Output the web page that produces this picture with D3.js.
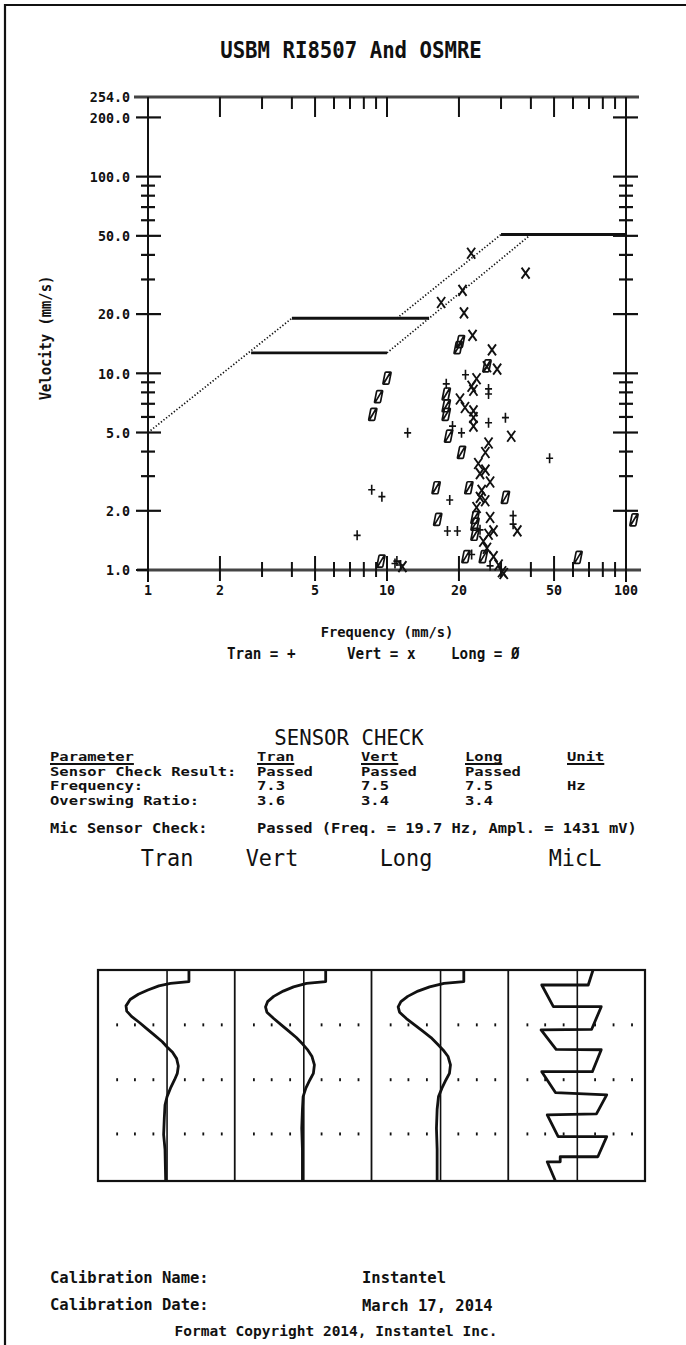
<!DOCTYPE html>
<html><head><meta charset="utf-8">
<script src="https://cdn.jsdelivr.net/npm/d3@7"></script>
<style>
html,body{margin:0;padding:0;background:#fff;}
svg{display:block;}
text{font-family:"DejaVu Sans Mono","Liberation Mono",monospace;fill:#111;}
</style></head><body>
<svg id="c" width="686" height="1345"></svg>
<script>
// ---------------- DATA ----------------
const chartTitle = "USBM RI8507 And OSMRE";
const yTickValues = [254, 200, 100, 50, 20, 10, 5, 2, 1];
const yTickLabels = ["254.0","200.0","100.0","50.0","20.0","10.0","5.0","2.0","1.0"];
const yMinorTicks = [90, 80, 70, 60, 40, 30, 9, 8, 7, 6, 4, 3];
const xMajorTicks = [2, 5, 10, 20, 50];
const xMinorTicks = [3, 4, 6, 7, 8, 9, 30, 40, 60, 70, 80, 90];
const xTickValues = [1, 2, 5, 10, 20, 50, 100];
const xTickLabels = ["1","2","5","10","20","50","100"];
const yAxisTitle = "Velocity (mm/s)";
const xAxisTitle = "Frequency (mm/s)";
const legendItems = ["Tran = +", "Vert = x", "Long = Ø"];

// criteria curves (Hz, mm/s)
const dottedSegments = [
  [[1, 5.0], [4, 19.05]],
  [[10, 12.7], [40, 50.8]],
  [[11, 19.05], [30, 50.8]]
];
const solidSegments = [
  [[2.7, 12.7], [10, 12.7]],
  [[4, 19.05], [15, 19.05]],
  [[30, 50.8], [100, 50.8]]
];

// peak particle velocity points (Hz, mm/s)
const tranPoints = [
  [12.2, 4.98], [8.63, 2.56], [9.52, 2.36], [7.5, 1.5], [17.7, 8.84], [21.3, 9.84],
  [18.8, 5.39], [20.5, 4.98], [26.6, 8.33], [26.6, 7.85], [26.6, 5.61], [31.3, 5.95],
  [18.3, 2.27], [17.9, 1.58], [19.7, 1.58], [33.7, 1.89], [33.7, 1.71], [47.9, 3.7],
  [11.0, 1.11], [11.4, 1.06], [10.8, 1.08], [24.5, 1.6], [22.6, 1.2], [27.0, 1.05]
];
const vertPoints = [
  [22.5, 40.8], [38.0, 32.3], [20.7, 26.4], [16.85, 22.9], [21.0, 20.3], [22.8, 15.6],
  [27.5, 13.15], [26.2, 10.8], [28.9, 10.5], [23.7, 9.39], [22.6, 8.6], [23.0, 8.2],
  [20.2, 7.4], [21.2, 6.7], [23.0, 6.44], [23.0, 5.95], [23.0, 5.39], [33.1, 4.79],
  [26.6, 4.42], [25.8, 3.96], [24.1, 3.48], [25.8, 3.22], [24.5, 3.09], [27.0, 2.8],
  [24.9, 2.54], [24.5, 2.34], [25.75, 2.25], [23.7, 2.08], [27.0, 1.85], [27.9, 1.58],
  [26.6, 1.52], [25.3, 1.4], [26.2, 1.29], [27.9, 1.17], [29.3, 1.06], [30.3, 0.98],
  [30.8, 0.96], [35.1, 1.58], [11.6, 1.04]
];
const longPoints = [
  [10.0, 9.46], [9.22, 7.61], [8.72, 6.19], [19.84, 13.5], [20.3, 14.5], [17.7, 7.85],
  [17.7, 6.84], [17.7, 6.19], [18.1, 4.79], [20.5, 3.96], [16.05, 2.62], [22.0, 2.62],
  [16.3, 1.81], [23.35, 1.71], [23.35, 1.52], [23.35, 1.85], [31.3, 2.34], [21.4, 1.17],
  [25.3, 1.17], [9.43, 1.11], [26.2, 10.9], [63, 1.16], [108, 1.8]
];

// sensor check table
const tableHeaders = ["Parameter", "Tran", "Vert", "Long", "Unit"];
const paramNames = ["Sensor Check Result:", "Frequency:", "Overswing Ratio:"];
const tranValues = ["Passed", "7.3", "3.6"];
const vertValues = ["Passed", "7.5", "3.4"];
const longValues = ["Passed", "7.5", "3.4"];
const unitValues = ["", "Hz", ""];
const micLabel = "Mic Sensor Check:";
const micResult = "Passed (Freq. = 19.7 Hz, Ampl. = 1431 mV)";

// waveforms: [time fraction, normalised amplitude]
const waveNames = ["Tran", "Vert", "Long", "MicL"];
const tranWave = [[0,0.32],[0.055,0.32],[0.063,0.05],[0.075,-0.12],[0.095,-0.28],[0.115,-0.42],[0.14,-0.54],[0.17,-0.6],[0.195,-0.59],[0.22,-0.52],[0.25,-0.4],[0.28,-0.29],[0.31,-0.18],[0.34,-0.07],[0.365,0.0],[0.39,0.08],[0.42,0.14],[0.455,0.165],[0.49,0.15],[0.52,0.11],[0.56,0.05],[0.6,0.0],[0.64,-0.03],[0.7,-0.04],[0.78,-0.05],[0.85,-0.03],[1.0,-0.02]];
const vertWave = [[0,0.32],[0.055,0.32],[0.063,0.04],[0.08,-0.15],[0.1,-0.3],[0.125,-0.44],[0.15,-0.53],[0.175,-0.56],[0.2,-0.54],[0.23,-0.44],[0.26,-0.33],[0.29,-0.22],[0.32,-0.11],[0.35,-0.02],[0.38,0.06],[0.41,0.12],[0.45,0.155],[0.49,0.14],[0.52,0.09],[0.56,0.03],[0.6,-0.01],[0.66,-0.02],[0.75,-0.03],[0.85,-0.02],[1,-0.02]];
const longWave = [[0,0.34],[0.055,0.34],[0.063,0.05],[0.08,-0.16],[0.1,-0.33],[0.125,-0.48],[0.15,-0.58],[0.175,-0.62],[0.2,-0.6],[0.23,-0.5],[0.26,-0.38],[0.29,-0.26],[0.32,-0.14],[0.35,-0.05],[0.38,0.04],[0.41,0.11],[0.45,0.145],[0.49,0.13],[0.52,0.08],[0.56,0.02],[0.6,-0.03],[0.66,-0.05],[0.75,-0.06],[0.85,-0.05],[1,-0.05]];
const micWave = [[0,0.23],[0.071,0.16],[0.071,-0.52],[0.174,-0.35],[0.174,0.35],[0.281,0.21],[0.284,-0.53],[0.376,-0.31],[0.378,0.35],[0.482,0.22],[0.482,-0.52],[0.581,-0.32],[0.592,0.43],[0.682,0.28],[0.687,-0.44],[0.79,-0.28],[0.79,0.43],[0.885,0.3],[0.885,-0.25],[0.909,-0.25],[0.909,-0.44],[1.0,-0.32]];
const waves = [tranWave, vertWave, longWave, micWave];

const calNameLabel = "Calibration Name:";
const calNameValue = "Instantel";
const calDateLabel = "Calibration Date:";
const calDateValue = "March 17, 2014";
const copyrightText = "Format Copyright 2014, Instantel Inc.";

// ---------------- DRAW ----------------
const svg = d3.select("#c");
const ink = "#111";

function txt(parent, x, y, s, o = {}) {
  const g = parent.append("g").attr("transform", `translate(${x},${y}) scale(${o.sx || 1},1)`);
  const t = g.append("text").attr("dy", "0.36em")
    .attr("text-anchor", o.anchor || "start")
    .attr("font-size", o.size || 15)
    .attr("font-weight", o.weight || "bold")
    .text(s);
  return t;
}

// page frame
svg.append("path").attr("d","M5,1345 V5 H686").attr("fill","none").attr("stroke",ink).attr("stroke-width",2.2);

txt(svg, 351, 50, chartTitle, {size: 23, sx: 0.9, anchor: "middle"});

const x = d3.scaleLog().domain([1,100]).range([148,626]);
const y = d3.scaleLog().domain([1,254]).range([570,97]);

const plot = svg.append("g");
plot.append("line").attr("x1",134).attr("x2",639).attr("y1",y(254)).attr("y2",y(254)).attr("stroke","#444").attr("stroke-width",3);
plot.append("line").attr("x1",137).attr("x2",641).attr("y1",y(1)).attr("y2",y(1)).attr("stroke","#444").attr("stroke-width",3);
[1,100].forEach(v=>{
  plot.append("line").attr("x1",x(v)).attr("x2",x(v)).attr("y1",y(254)).attr("y2",y(1)+12).attr("stroke",ink).attr("stroke-width",2);
});
yTickValues.filter(v=>v!==254 && v!==1).forEach(v=>{
  plot.append("line").attr("x1",x(1)-12).attr("x2",x(1)+13).attr("y1",y(v)).attr("y2",y(v)).attr("stroke",ink).attr("stroke-width",2.2);
  plot.append("line").attr("x1",x(100)-13).attr("x2",x(100)+12).attr("y1",y(v)).attr("y2",y(v)).attr("stroke",ink).attr("stroke-width",2.2);
});
plot.append("line").attr("x1",x(1)-12).attr("x2",x(1)).attr("y1",y(1)).attr("y2",y(1)).attr("stroke",ink).attr("stroke-width",2);
yMinorTicks.forEach(v=>{
  plot.append("line").attr("x1",x(1)-7).attr("x2",x(1)+7).attr("y1",y(v)).attr("y2",y(v)).attr("stroke",ink).attr("stroke-width",2.2);
  plot.append("line").attr("x1",x(100)-7).attr("x2",x(100)+7).attr("y1",y(v)).attr("y2",y(v)).attr("stroke",ink).attr("stroke-width",2.2);
});
yTickValues.forEach((v,i)=>{
  txt(plot, 130, y(v), yTickLabels[i], {size: 14.5, sx: 0.92, anchor: "end"});
});
xMajorTicks.forEach(v=>{
  plot.append("line").attr("x1",x(v)).attr("x2",x(v)).attr("y1",y(254)).attr("y2",y(254)+20).attr("stroke",ink).attr("stroke-width",2);
  plot.append("line").attr("x1",x(v)).attr("x2",x(v)).attr("y1",y(1)-14).attr("y2",y(1)+11).attr("stroke",ink).attr("stroke-width",2);
});
xMinorTicks.forEach(v=>{
  plot.append("line").attr("x1",x(v)).attr("x2",x(v)).attr("y1",y(254)).attr("y2",y(254)+12).attr("stroke",ink).attr("stroke-width",2);
  plot.append("line").attr("x1",x(v)).attr("x2",x(v)).attr("y1",y(1)-8).attr("y2",y(1)+7).attr("stroke",ink).attr("stroke-width",2);
});
xTickValues.forEach((v,i)=>{
  txt(plot, x(v), 590, xTickLabels[i], {size: 14.5, sx: 0.92, anchor: "middle"});
});
// axis titles
const yt = plot.append("g").attr("transform","translate(46,338) rotate(-90)");
txt(yt, 0, 0, yAxisTitle, {size: 15, sx: 0.92, anchor: "middle"});
txt(plot, 387, 632, xAxisTitle, {size: 14.5, sx: 0.95, anchor: "middle"});
const legendX = [227, 347, 451];
legendItems.forEach((s,i)=>txt(plot, legendX[i], 654, s, {size: 15, sx: 0.95}));

// criteria lines
const lineGen = d3.line().x(d=>x(d[0])).y(d=>y(d[1]));
plot.selectAll(".dot").data(dottedSegments).join("path").attr("d",lineGen)
  .attr("fill","none").attr("stroke",ink).attr("stroke-width",1.7).attr("stroke-dasharray","1.3 2");
plot.selectAll(".sol").data(solidSegments).join("path").attr("d",lineGen)
  .attr("fill","none").attr("stroke",ink).attr("stroke-width",2.8);

// markers
const mk = plot.append("g").attr("fill","none").attr("stroke",ink);
mk.selectAll(".tp").data(tranPoints).join("path")
  .attr("transform",d=>`translate(${x(d[0])},${y(d[1])})`)
  .attr("d","M-3.5,0H3.5M0,-5V5").attr("stroke-width",1.6);
mk.selectAll(".vp").data(vertPoints).join("path")
  .attr("transform",d=>`translate(${x(d[0])},${y(d[1])})`)
  .attr("d","M-4,-5.5L4,5.5M4,-5.5L-4,5.5").attr("stroke-width",1.9);
mk.selectAll(".lp").data(longPoints).join("path")
  .attr("transform",d=>`translate(${x(d[0])},${y(d[1])})`)
  .attr("d","M-1,-6H3.5Q4.2,-6 4,-5L2,5Q1.8,6 1,6H-3.5Q-4.2,6 -4,5L-2,-5Q-1.8,-6 -1,-6Z M-3,5L3,-5").attr("stroke-width",1.7);

// ---------------- SENSOR CHECK ----------------
txt(svg, 349, 737, "SENSOR CHECK", {size: 22, sx: 0.94, anchor: "middle", weight: "normal"});
const colX = [50, 257, 361, 465, 567];
const headY = 757;
const rowY = [771.5, 786, 800.5];
const tblSize = 12.4, tblSx = 1.25;
tableHeaders.forEach((h,i)=>{
  const t = txt(svg, colX[i], headY, h, {size: tblSize, sx: tblSx});
  const w = t.node().getComputedTextLength() * tblSx;
  svg.append("line").attr("x1",colX[i]).attr("x2",colX[i]+w).attr("y1",764).attr("y2",764).attr("stroke",ink).attr("stroke-width",1.8);
});
const cols = [paramNames, tranValues, vertValues, longValues, unitValues];
cols.forEach((col,ci)=>{
  col.forEach((s,ri)=>{ if (s) txt(svg, colX[ci], rowY[ri], s, {size: tblSize, sx: tblSx}); });
});
txt(svg, 50, 828, micLabel, {size: 14, sx: 1.1});
txt(svg, 257, 828, micResult, {size: 14, sx: 1.1});

// ---------------- WAVEFORMS ----------------
const bx0 = 98, bx1 = 645, by0 = 970, by1 = 1181;
const band = d3.scaleBand().domain(waveNames).range([bx0,bx1]).padding(0);
const tScale = d3.scaleLinear().domain([0,1]).range([by0,by1]);
const titleX = [167, 272, 406, 575];
waveNames.forEach((n,i)=>{ txt(svg, titleX[i], 858, n, {size: 23, sx: 0.95, anchor: "middle", weight: "normal"}); });
const wv = svg.append("g");
wv.append("rect").attr("x",bx0).attr("y",by0).attr("width",bx1-bx0).attr("height",by1-by0)
  .attr("fill","none").attr("stroke",ink).attr("stroke-width",2.2);
const bw = band.bandwidth();
const dotFracX = [0.14, 0.27, 0.405, 0.635, 0.77, 0.905];
const dotFracT = [0.26, 0.52, 0.777];
waveNames.forEach((n,i)=>{
  const px = band(n);
  if (i>0) wv.append("line").attr("x1",px).attr("x2",px).attr("y1",by0).attr("y2",by1).attr("stroke",ink).attr("stroke-width",1.8);
  const cx = px + bw*0.505;
  wv.append("line").attr("x1",cx).attr("x2",cx).attr("y1",by0).attr("y2",by1).attr("stroke",ink).attr("stroke-width",1.6);
  dotFracT.forEach(ft=>{
    dotFracX.forEach(fx=>{
      wv.append("rect").attr("x",px+bw*fx-0.9).attr("y",tScale(ft)-1.5).attr("width",1.8).attr("height",3).attr("fill",ink);
    });
  });
  const a = d3.scaleLinear().domain([-1,1]).range([cx-bw/2, cx+bw/2]);
  wv.append("path").datum(waves[i])
    .attr("d", d3.line().x(d=>a(d[1])).y(d=>tScale(d[0])))
    .attr("fill","none").attr("stroke",ink).attr("stroke-width",2.8).attr("stroke-linejoin","round");
});

// ---------------- FOOTER ----------------
txt(svg, 50, 1277, calNameLabel, {size: 15.5});
txt(svg, 362, 1277, calNameValue, {size: 15.5});
txt(svg, 50, 1304, calDateLabel, {size: 15.5});
txt(svg, 362, 1305, calDateValue, {size: 15.5});
txt(svg, 336, 1331, copyrightText, {size: 14.5, anchor: "middle"});
</script>
</body></html>
